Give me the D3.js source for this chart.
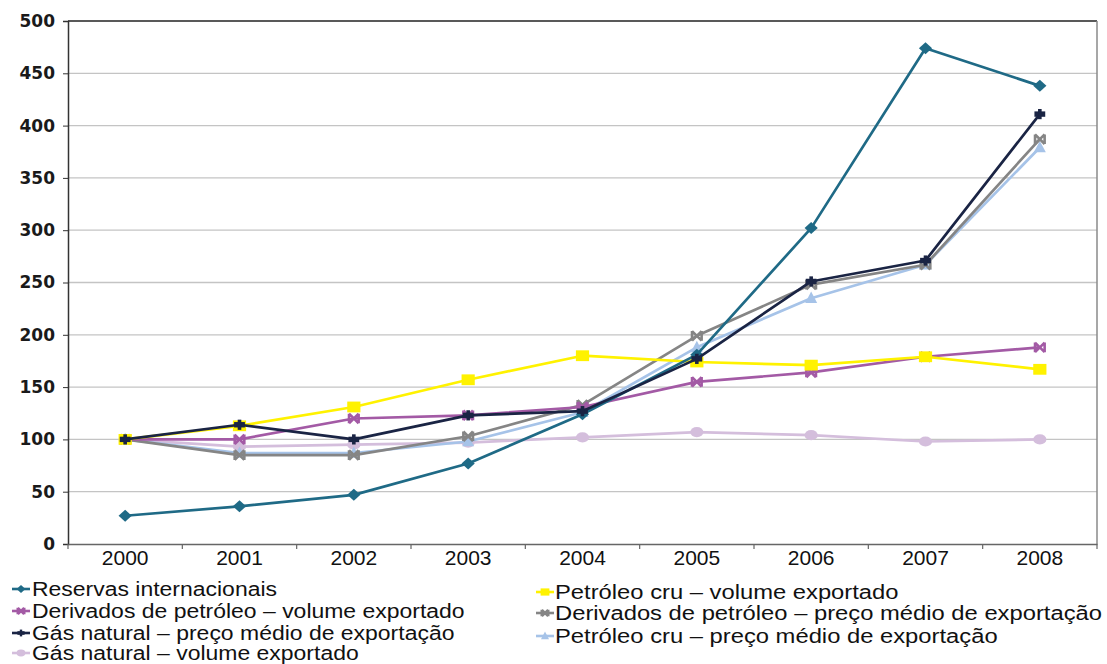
<!DOCTYPE html>
<html><head><meta charset="utf-8">
<script src="https://cdn.jsdelivr.net/npm/d3@7"></script>
<style>
body{margin:0;background:#fff;}
svg{display:block;}
</style></head>
<body><svg id="c" width="1107" height="664"></svg>
<script>
const years = ["2000","2001","2002","2003","2004","2005","2006","2007","2008"];
const yTicks = [0,50,100,150,200,250,300,350,400,450,500];

const reservas        = [27, 36, 47, 77, 124, 181, 302, 474, 438];
const petroleoVolume  = [100, 113, 131, 157, 180, 174, 171, 179, 167];
const derivadosVolume = [100, 100, 120, 123, 131, 155, 164, 179, 188];
const derivadosPreco  = [100, 85, 85, 103, 133, 199, 248, 267, 387];
const gasPreco        = [100, 114, 100, 123, 127, 177, 251, 271, 411];
const petroleoPreco   = [100, 87, 87, 98, 126, 188, 235, 267, 379];
const gasVolume       = [100, 93, 95, 97, 102, 107, 104, 98, 100];

const seriesNames = [
  "Reservas internacionais",
  "Petróleo cru – volume exportado",
  "Derivados de petróleo – volume exportado",
  "Derivados de petróleo – preço médio de exportação",
  "Gás natural – preço médio de exportação",
  "Petróleo cru – preço médio de exportação",
  "Gás natural – volume exportado"
];
const seriesValues = [reservas, petroleoVolume, derivadosVolume, derivadosPreco, gasPreco, petroleoPreco, gasVolume];
const seriesColors = ["#1f6a86", "#fff200", "#a35aa5", "#858585", "#1a2444", "#a6c3e8", "#d4bedc"];
const seriesMarkers = ["diamond", "square", "x", "x", "plus", "triangle", "circle"];
// legend slot: [column, row]
const legendSlots = [[0,0],[1,0],[0,1],[1,1],[0,2],[1,2],[0,3]];
// drawing order (back to front)
const drawOrder = [6, 5, 3, 2, 1, 0, 4];

const svg = d3.select("#c");
const margin = {left: 68, right: 1097, top: 21, bottom: 544};

const x = d3.scaleBand().domain(years).range([margin.left, margin.right]);
const y = d3.scaleLinear().domain([0, 500]).range([margin.bottom, margin.top]);
const cx = d => x(d) + x.bandwidth()/2;

// gridlines
svg.append("g").selectAll("line").data(yTicks.filter(t => t > 0 && t < 500)).join("line")
  .attr("x1", margin.left).attr("x2", margin.right)
  .attr("y1", d => y(d)).attr("y2", d => y(d))
  .attr("stroke", "#c4c4c4").attr("stroke-width", 1.3);

// frame top and right
svg.append("line").attr("x1", margin.left).attr("x2", margin.right)
  .attr("y1", y(500)).attr("y2", y(500)).attr("stroke", "#222").attr("stroke-width", 1.3);
svg.append("line").attr("x1", margin.right).attr("x2", margin.right)
  .attr("y1", y(500)).attr("y2", y(0)).attr("stroke", "#8a8a8a").attr("stroke-width", 1.5);

// y axis
const yAxis = svg.append("g").attr("transform", `translate(${margin.left},0)`)
  .call(d3.axisLeft(y).tickValues(yTicks).tickSize(5).tickPadding(8).tickFormat(d3.format("d")));
yAxis.select(".domain").attr("stroke", "#333").attr("stroke-width", 1.5);
yAxis.selectAll(".tick line").attr("stroke", "#333");
yAxis.selectAll("text").attr("font-family", "DejaVu Sans, Verdana, sans-serif")
  .attr("font-size", 17).attr("font-weight", "bold").attr("fill", "#1a1a1a");

// x axis
const xAxis = svg.append("g").attr("transform", `translate(0,${margin.bottom})`)
  .call(d3.axisBottom(x).tickSize(0).tickPadding(6));
xAxis.select(".domain").attr("stroke", "#666").attr("stroke-width", 1.5);
xAxis.selectAll("text").attr("font-family", "Liberation Sans, Arial, sans-serif")
  .attr("font-size", 21).attr("fill", "#111");
// boundary ticks
svg.append("g").selectAll("line").data(years).join("line")
  .attr("x1", d => x(d)).attr("x2", d => x(d))
  .attr("y1", margin.bottom).attr("y2", margin.bottom + 5)
  .attr("stroke", "#666").attr("stroke-width", 1.2);
svg.append("line").attr("x1", margin.right).attr("x2", margin.right)
  .attr("y1", margin.bottom).attr("y2", margin.bottom + 5).attr("stroke", "#666").attr("stroke-width", 1.2);

function drawMarker(g, type, color, px, py, s) {
  if (type === "diamond") {
    g.append("path").attr("d", `M${px},${py-s}L${px+s*1.1},${py}L${px},${py+s}L${px-s*1.1},${py}Z`).attr("fill", color);
  } else if (type === "square") {
    g.append("rect").attr("x", px-s*1.1).attr("y", py-s*0.9).attr("width", 2.2*s).attr("height", 1.8*s).attr("fill", color);
  } else if (type === "circle") {
    g.append("ellipse").attr("cx", px).attr("cy", py).attr("rx", s*1.1).attr("ry", s*0.85).attr("fill", color);
  } else if (type === "triangle") {
    g.append("path").attr("d", `M${px},${py-s*1.1}L${px+s},${py+s*0.8}L${px-s},${py+s*0.8}Z`).attr("fill", color);
  } else if (type === "x") {
    const a = s*0.8;
    g.append("path").attr("d", `M${px-a},${py-a}L${px+a},${py+a}M${px-a},${py+a}L${px+a},${py-a}M${px-a},${py-a}L${px-a},${py+a}M${px+a},${py-a}L${px+a},${py+a}`)
      .attr("stroke", color).attr("stroke-width", 2.6).attr("fill", "none");
  } else if (type === "plus") {
    g.append("rect").attr("x", px-s*0.9).attr("y", py-s*0.45).attr("width", s*1.8).attr("height", s*0.9).attr("fill", color);
    g.append("rect").attr("x", px-s*0.3).attr("y", py-s*0.85).attr("width", s*0.6).attr("height", s*1.7).attr("fill", color);
  }
}

const line = d3.line().x((d, i) => cx(years[i])).y(d => y(d));
const plot = svg.append("g");
drawOrder.forEach(si => {
  const g = plot.append("g");
  g.append("path").datum(seriesValues[si]).attr("d", line)
    .attr("fill", "none").attr("stroke", seriesColors[si]).attr("stroke-width", 2.7)
    .attr("stroke-linejoin", "round");
  seriesValues[si].forEach((v, i) => drawMarker(g, seriesMarkers[si], seriesColors[si], cx(years[i]), y(v), 6));
});

// legend
const legCols = [{mx: 12, tx: 32}, {mx: 536, tx: 555}];
const legRowsY = [[589, 611, 633, 653], [592, 613, 636]];
const leg = svg.append("g");
const legTexts = [];
seriesNames.forEach((name, si) => {
  const [c, r] = legendSlots[si];
  const ly = legRowsY[c][r];
  const lx = legCols[c].mx;
  const g = leg.append("g");
  g.append("line").attr("x1", lx).attr("x2", lx + 18).attr("y1", ly).attr("y2", ly)
    .attr("stroke", seriesColors[si]).attr("stroke-width", 2.6);
  drawMarker(g, seriesMarkers[si], seriesColors[si], lx + 9, ly, 4);
  legTexts.push({c, t: g.append("text").attr("x", legCols[c].tx).attr("y", ly).attr("dy", "0.36em")
    .attr("font-family", "Liberation Sans, Arial, sans-serif")
    .attr("font-size", 20).attr("fill", "#111").text(name)});
});
// horizontal stretch per column so each column's reference label matches the reference width
const kLeft = 245 / legTexts[0].t.node().getComputedTextLength();
const kRight = 547 / legTexts[3].t.node().getComputedTextLength();
legTexts.forEach(({c, t}) => {
  const w = t.node().getComputedTextLength();
  t.attr("textLength", w * (c === 0 ? kLeft : kRight)).attr("lengthAdjust", "spacingAndGlyphs");
});
</script></body></html>
